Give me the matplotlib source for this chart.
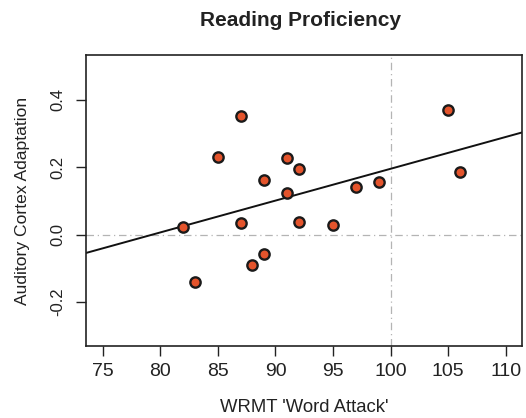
import numpy as np
import matplotlib
matplotlib.use("Agg")
import matplotlib.pyplot as plt

plt.rcParams['font.family'] = ['Liberation Sans', 'DejaVu Sans']

# WRMT Word Attack scores and auditory cortex adaptation per subject
word_attack = [82, 83, 85, 87, 87, 88, 89, 89, 91, 91, 92, 92, 95, 97, 99, 105, 106]
adaptation = [0.023, -0.142, 0.231, 0.351, 0.034, -0.091, 0.162, -0.057, 0.228,
              0.123, 0.196, 0.038, 0.027, 0.141, 0.157, 0.369, 0.187]
x_ticks = [75, 80, 85, 90, 95, 100, 105, 110]
y_ticks = [-0.2, 0.0, 0.2, 0.4]
y_tick_labels = ["-0.2", "0.0", "0.2", "0.4"]

W, H = 526, 418
fig = plt.figure(figsize=(W / 100, H / 100), dpi=100)
left, right, top, bottom = 86, 522, 55, 346
ax = fig.add_axes([left / W, 1 - bottom / H, (right - left) / W, (bottom - top) / H])

x = np.array(word_attack, dtype=float)
y = np.array(adaptation, dtype=float)

ax.set_xlim(73.55, 111.4)
ax.set_ylim(-0.331, 0.533)

# reference lines at zero adaptation and a standard score of 100
ax.axhline(0, color='#b4b4b4', lw=0.9, ls=(0, (6, 3, 1, 3)), zorder=1)
ax.axvline(100, color='#b4b4b4', lw=0.9, ls=(0, (6, 3, 1, 3)), zorder=1)

# least-squares fit across the full axis width
slope, intercept = np.polyfit(x, y, 1)
xs = np.array(ax.get_xlim())
ax.plot(xs, intercept + slope * xs, color='#111111', lw=1.4, zorder=2)

ax.scatter(x, y, s=55, facecolor='#e4542c', edgecolor='#1a1a1a', linewidths=1.7, zorder=3)

ax.set_xticks(x_ticks)
ax.set_xticklabels([str(t) for t in x_ticks])
ax.set_yticks(y_ticks)
ax.set_yticklabels(y_tick_labels, rotation=90, va='center')
ax.tick_params(axis='both', length=7, width=1.0, color='#222222', labelcolor='#222222')
ax.tick_params(axis='x', labelsize=14, pad=5)
ax.tick_params(axis='y', labelsize=12, pad=8)
for s in ax.spines.values():
    s.set_linewidth(1.2)
    s.set_color('#222222')

ax.set_xlabel("WRMT 'Word Attack'", fontsize=13.3, color='#222222')
ax.xaxis.label.set_va('baseline')
ax.xaxis.set_label_coords(0.5, (bottom - 412) / (bottom - top))

ax.set_ylabel("Auditory Cortex Adaptation", fontsize=12.6, color='#222222')
ax.yaxis.label.set(va='center', ha='center', rotation_mode='default')
ax.yaxis.set_label_coords((22.5 - left) / (right - left), 0.5)

fig.text(301 / W, 1 - 26.5 / H, "Reading Proficiency", ha='center', va='baseline',
         fontsize=15, fontweight='bold', color='#222222')

fig.savefig("out.png", dpi=100)
